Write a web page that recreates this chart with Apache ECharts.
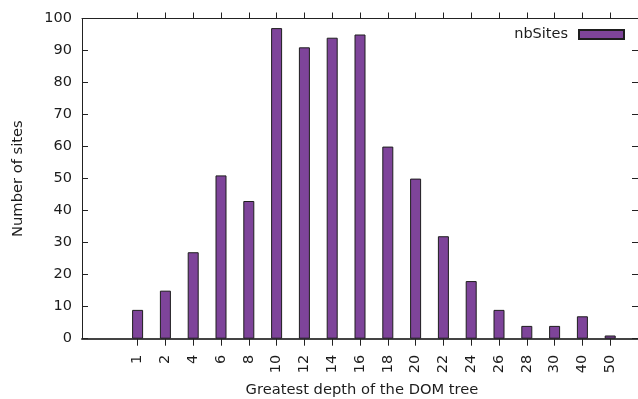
<!DOCTYPE html>
<html>
<head>
<meta charset="utf-8">
<title>Greatest depth of the DOM tree</title>
<script src="https://cdn.jsdelivr.net/npm/echarts@6/dist/echarts.min.js"></script>
<style>
  html, body { margin: 0; padding: 0; background: #fff; }
  #chart { width: 638px; height: 399px; }
</style>
</head>
<body>
<div id="chart"></div>
<script>
// Depth buckets (x tick labels) and how many sites fall in each
const depthLabels = ['1', '2', '4', '6', '8', '10', '12', '14', '16', '18', '20', '22', '24', '26', '28', '30', '40', '50'];
const nbSites = [9, 15, 27, 51, 43, 97, 91, 94, 95, 60, 50, 32, 18, 9, 4, 4, 7, 1];
const yTicks = [0, 10, 20, 30, 40, 50, 60, 70, 80, 90, 100];

const FONT = 'DejaVu Sans';
const INK = '#1c1c1c';
const BAR = '#7E449A';
const TICK_SIZE = 14.5;
const TITLE_SIZE = 14.7;

const slots = depthLabels.map((_, i) => i);
const barData = nbSites.map((v, i) => [i, v]);

const chart = echarts.init(document.getElementById('chart'), null, { renderer: 'canvas' });

chart.setOption({
  animation: false,
  backgroundColor: '#ffffff',
  textStyle: { fontFamily: FONT, color: INK },
  grid: { left: 82, top: 18.5, right: -5, bottom: 60.3, containLabel: false },
  legend: {
    data: ['nbSites'],
    right: 13,
    top: 27,
    padding: 0,
    align: 'right',
    icon: 'rect',
    itemWidth: 45,
    itemHeight: 9,
    textStyle: { fontFamily: FONT, fontSize: TICK_SIZE, color: INK, padding: [0, 6, 0, 0] }
  },
  xAxis: [
    {
      type: 'value',
      position: 'bottom',
      min: -2,
      max: 18,
      interval: 1,
      splitLine: { show: false },
      axisLine: { show: true, onZero: false, lineStyle: { color: '#444', width: 2 } },
      axisTick: { show: true, inside: false, length: 7, customValues: slots, lineStyle: { color: '#222', width: 1 } },
      axisLabel: {
        customValues: slots,
        rotate: 90,
        margin: 16,
        fontFamily: FONT,
        fontSize: TICK_SIZE,
        color: INK,
        formatter: v => depthLabels[Math.round(v)] ?? ''
      }
    },
    {
      type: 'value',
      position: 'top',
      min: -2,
      max: 18,
      interval: 1,
      splitLine: { show: false },
      axisLine: { show: true, onZero: false, lineStyle: { color: '#222', width: 1 } },
      axisTick: { show: true, inside: false, length: 6, customValues: slots, lineStyle: { color: '#222', width: 1 } },
      axisLabel: { show: false }
    }
  ],
  yAxis: [
    {
      type: 'value',
      position: 'left',
      min: 0,
      max: 100,
      interval: 10,
      splitLine: { show: false },
      axisLine: { show: true, onZero: false, lineStyle: { color: '#222', width: 1 } },
      axisTick: { show: true, inside: true, length: 6, customValues: yTicks, lineStyle: { color: '#222', width: 1 } },
      axisLabel: { margin: 10, fontFamily: FONT, fontSize: TICK_SIZE, color: INK, customValues: yTicks }
    },
    {
      type: 'value',
      position: 'right',
      min: 0,
      max: 100,
      interval: 10,
      splitLine: { show: false },
      axisLine: { show: true, onZero: false, lineStyle: { color: '#222', width: 1 } },
      axisTick: { show: true, inside: true, length: 6, lineStyle: { color: '#222', width: 1 } },
      axisLabel: { show: false }
    }
  ],
  series: [
    {
      name: 'nbSites',
      type: 'bar',
      xAxisIndex: 0,
      yAxisIndex: 0,
      barWidth: 11,
      data: barData,
      itemStyle: { color: BAR, borderColor: '#1e1e1e', borderWidth: 1 }
    }
  ],
  graphic: [
    {
      type: 'text',
      x: 18,
      y: 178.6,
      rotation: Math.PI / 2,
      style: {
        text: 'Number of sites',
        font: TITLE_SIZE + 'px "' + FONT + '"',
        fill: INK,
        align: 'center',
        verticalAlign: 'middle'
      }
    },
    {
      type: 'text',
      x: 362,
      y: 390,
      style: {
        text: 'Greatest depth of the DOM tree',
        font: TITLE_SIZE + 'px "' + FONT + '"',
        fill: INK,
        align: 'center',
        verticalAlign: 'middle'
      }
    }
  ]
});
</script>
</body>
</html>
